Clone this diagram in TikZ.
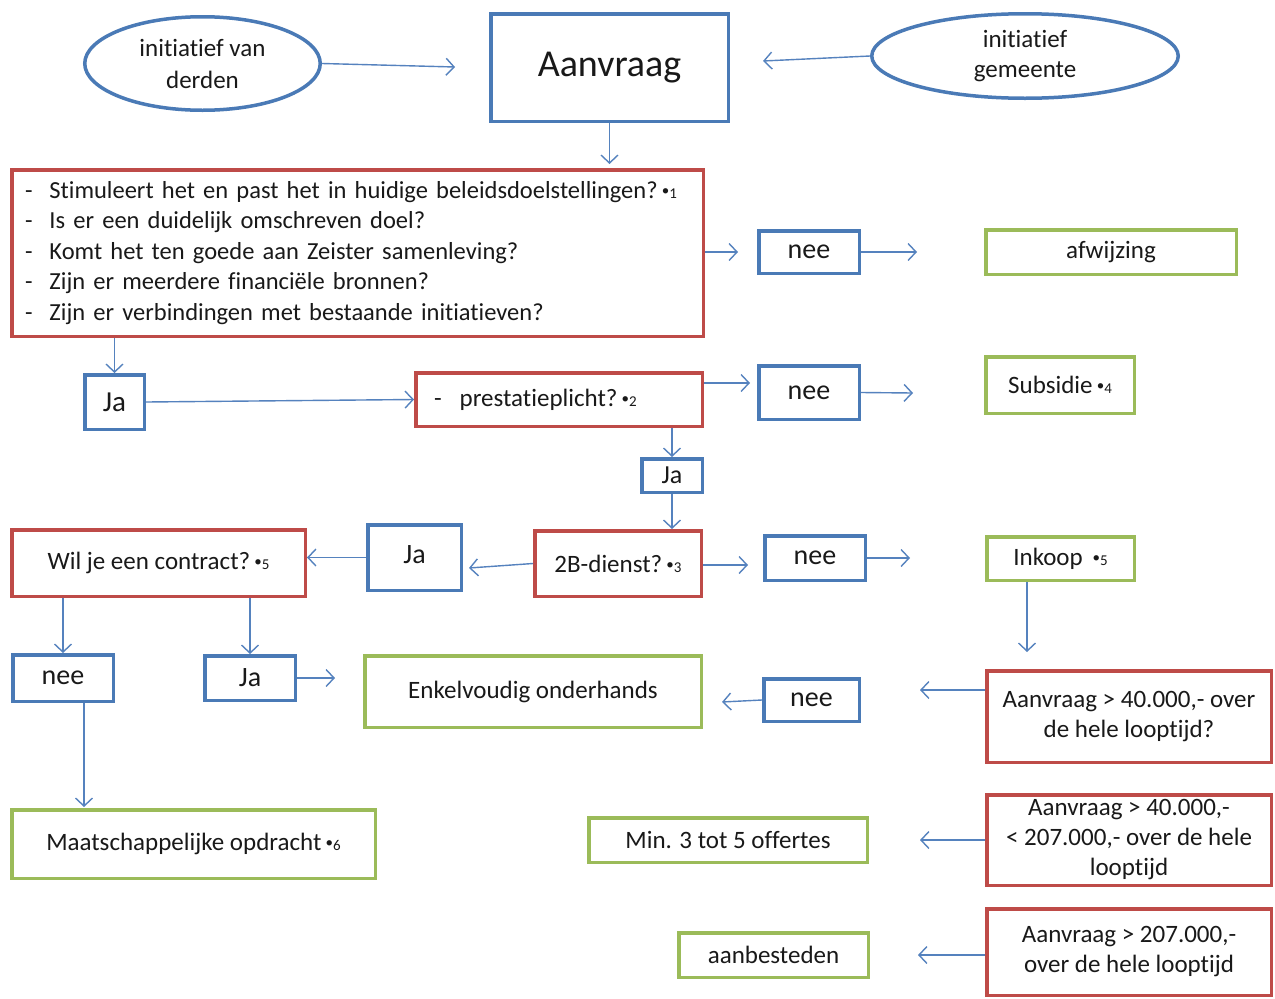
\documentclass[tikz,border=0pt]{standalone}
\usepackage{fontspec}
\setmainfont{Carlito}[Ligatures=NoCommon]
\usetikzlibrary{arrows.meta,shapes.geometric}
\definecolor{bblue}{RGB}{74,122,182}
\definecolor{rred}{RGB}{190,75,72}
\definecolor{ggreen}{RGB}{155,187,89}
\definecolor{lblue}{RGB}{85,130,190}
\definecolor{tx}{RGB}{25,25,25}
\newcommand{\fn}[1]{\,{\fontsize{15}{15}\selectfont \raisebox{3pt}{•}#1}}
\newcommand{\mybox}[7]{\node[#1, minimum width={(#5-#3-3.5)*1pt}, minimum height={(#6-#4-3.5)*1pt}] (#2) at ({(#3+#5)/2},{(#4+#6)/2}) {#7};}
\begin{document}
\begin{tikzpicture}[x=1pt,y=-1pt,
 every node/.style={text=tx, font=\fontsize{25}{30}\selectfont, inner sep=0pt, align=center},
 bbox/.style={draw=bblue, line width=3.5pt, rectangle, font=\fontsize{28}{30}\selectfont},
 rbox/.style={draw=rred, line width=3.5pt, rectangle},
 gbox/.style={draw=ggreen, line width=3.5pt, rectangle},
 ell/.style={draw=bblue, line width=3.5pt, ellipse, font=\fontsize{25}{32}\selectfont},
 conn/.style={draw=lblue, line width=1.4pt, -{Straight Barb[length=8pt,width=17pt]}},
]
\useasboundingbox (0,0) rectangle (1275,999);
\fill[white] (0,0) rectangle (1275,999);

% top row
\mybox{ell}{derden}{83}{15}{322}{112}{initiatief van\\derden}
\mybox{bbox, font=\fontsize{38}{40}\selectfont}{aanvraag}{489}{12}{730}{123}{Aanvraag}
\mybox{ell, font=\fontsize{25}{30}\selectfont}{gemeente}{870}{12}{1180}{100}{initiatief\\gemeente}

% criteria box
\mybox{rbox, text width=665pt, align=left, font=\fontsize{24.5}{30.5}\selectfont}{crit}{10}{168}{705}{338}{%
\begin{tabular}{@{}l@{\hspace{17pt}}l@{}}
-& Stimuleert het en past het in huidige beleidsdoelstellingen?\fn{1}\\
-& Is er een duidelijk omschreven doel?\\
-& Komt het ten goede aan Zeister samenleving?\\
-& Zijn er meerdere financiële bronnen?\\
-& Zijn er verbindingen met bestaande initiatieven?
\end{tabular}}

\mybox{bbox}{nee1}{757}{229}{861}{275}{nee}
\mybox{gbox}{afw}{984}{228}{1238}{276}{afwijzing}

\mybox{bbox, font=\fontsize{29}{30}\selectfont}{ja1}{83}{373}{146}{431}{Ja}
\mybox{rbox}{prest}{414}{371}{704}{428}{\makebox[250pt][l]{-\hspace{18pt}prestatieplicht?\fn{2}}}
\mybox{bbox}{nee2}{757}{364}{861}{421}{nee}
\mybox{gbox}{subs}{984}{355}{1136}{415}{Subsidie\fn{4}}

\mybox{bbox, font=\fontsize{26}{28}\selectfont}{ja2}{640}{457}{704}{494}{Ja}
\mybox{rbox}{db}{533}{529}{703}{598}{2B-dienst?\fn{3}}
\mybox{bbox}{jab}{366}{523}{463}{592}{\raisebox{5pt}{Ja}}
\mybox{rbox}{wil}{10}{528}{307}{598}{Wil je een contract?\fn{5}}
\mybox{bbox}{nee3}{763}{534}{867}{582}{nee}
\mybox{gbox}{ink}{985}{535}{1136}{582}{Inkoop \fn{5}}

\mybox{bbox}{nee5}{11}{653}{115}{703}{nee}
\mybox{bbox}{jac}{203}{654}{297}{702}{Ja}
\mybox{gbox}{enk}{363}{654}{703}{729}{\raisebox{3pt}{Enkelvoudig onderhands}}
\mybox{bbox}{nee4}{762}{677}{861}{723}{nee}
\mybox{rbox}{ag1}{985}{669}{1273}{764}{Aanvraag > 40.000,- over\\de hele looptijd?}

\mybox{gbox}{maat}{10}{808}{377}{880}{Maatschappelijke opdracht\fn{6}}
\mybox{gbox}{min}{587}{816}{869}{864}{Min. 3 tot 5 offertes}
\mybox{rbox}{ag2}{985}{793}{1273}{887}{Aanvraag > 40.000,-\\< 207.000,- over de hele\\looptijd}
\mybox{gbox}{aanb}{677}{931}{870}{979}{aanbesteden}
\mybox{rbox}{ag3}{985}{907}{1273}{997}{Aanvraag > 207.000,-\\over de hele looptijd}

% free arrow ends
\coordinate (e1) at (455,67);
\coordinate (e2) at (763,61);
\coordinate (e3) at (609.5,164);
\coordinate (e4) at (738,252);
\coordinate (e5) at (917,252);
\coordinate (e8) at (750,383);
\coordinate (e9) at (913,393);
\coordinate (e12) at (469,568);
\coordinate (e14) at (748,565);
\coordinate (e15) at (910,558);
\coordinate (e16) at (1027,652);
\coordinate (e17) at (920,690);
\coordinate (e18) at (722,702);
\coordinate (e21) at (335,678);
\coordinate (e22) at (84,807);
\coordinate (e23) at (920,840);
\coordinate (e24) at (918,955);

\draw[conn] (derden.east) -- (e1);
\draw[conn] (gemeente.west) -- (e2);
\draw[conn] (aanvraag.south) -- (e3);
\draw[conn] (crit.east |- e4) -- (e4);
\draw[conn] (nee1.east) -- (e5);
\draw[conn] (crit.south -| ja1.north) -- (ja1.north);
\draw[conn] (ja1.east) -- (prest.west);
\draw[conn] (prest.east |- e8) -- (e8);
\draw[conn] (nee2.east) -- (e9);
\draw[conn] (prest.south -| ja2.north) -- (ja2.north);
\draw[conn] (ja2.south) -- (ja2.south |- db.north);
\draw[conn] (db.west) -- (e12);
\draw[conn] (jab.west) -- (jab.west -| wil.east);
\draw[conn] (db.east |- e14) -- (e14);
\draw[conn] (nee3.east |- e15) -- (e15);
\draw[conn] (ink.south -| e16) -- (e16);
\draw[conn] (ag1.west |- e17) -- (e17);
\draw[conn] (nee4.west) -- (e18);
\draw[conn] (wil.south -| nee5.north) -- (nee5.north);
\draw[conn] (wil.south -| jac.north) -- (jac.north);
\draw[conn] (jac.east) -- (e21);
\draw[conn] (nee5.south -| e22) -- (e22);
\draw[conn] (ag2.west |- e23) -- (e23);
\draw[conn] (ag3.west |- e24) -- (e24);
\end{tikzpicture}
\end{document}
